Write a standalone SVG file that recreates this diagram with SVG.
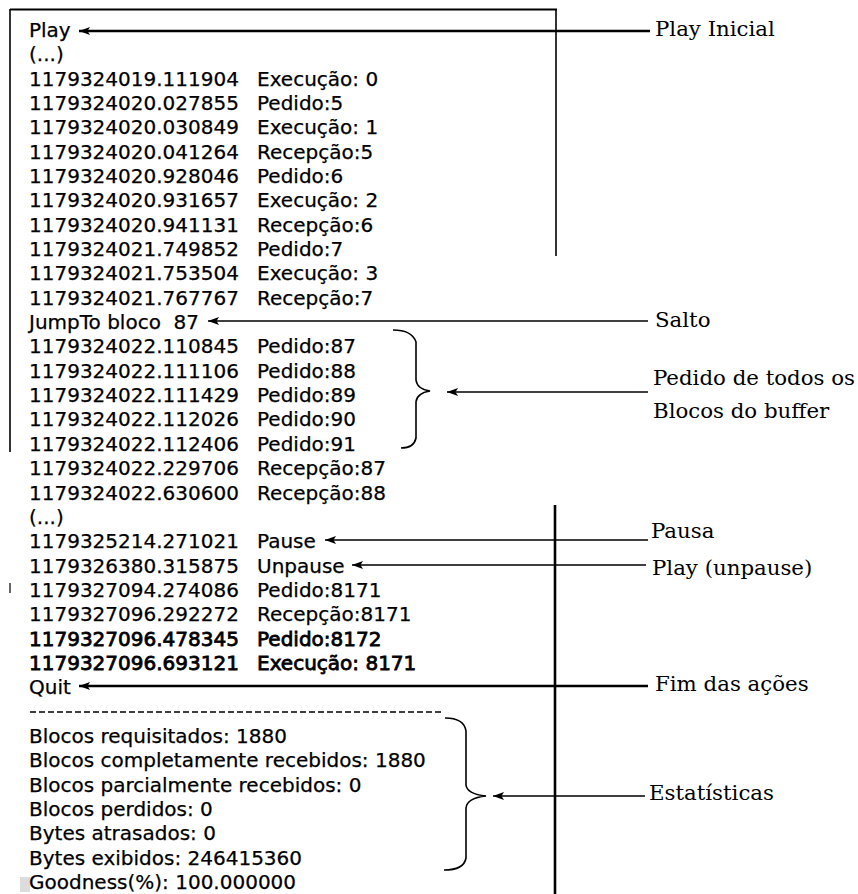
<svg xmlns="http://www.w3.org/2000/svg" width="858" height="894" viewBox="0 0 858 894">
  <style>
    .log { font-family: "DejaVu Sans", Verdana, sans-serif; font-size: 20px; fill: #000; stroke: #000; stroke-width: 0.25px; }
    .bold { stroke-width: 0.8px; }
    .lbl { font-family: "DejaVu Serif", "Liberation Serif", serif; font-size: 21.3px; fill: #000; }
    .frame { stroke: #000; fill: none; }
    .conn { stroke: #000; stroke-width: 1.6; fill: none; }
    .conn-thick { stroke: #000; stroke-width: 2.4; fill: none; }
    .brace { stroke: #000; stroke-width: 1.6; fill: none; }
  </style>
  <defs>
    <marker id="head" viewBox="0 0 11 8" refX="0" refY="4" markerWidth="11" markerHeight="8" markerUnits="userSpaceOnUse" orient="auto">
      <path d="M0,4 L11,0 L8.5,4 L11,8 Z" fill="#000"/>
    </marker>
  </defs>

  <rect width="858" height="894" fill="#fff"/>

  <!-- frame around the log listing -->
  <g id="log-frame">
    <line class="frame" x1="10" y1="9.5" x2="557" y2="9.5" stroke-width="2"/>
    <line class="frame" x1="10" y1="9" x2="10" y2="452" stroke-width="1.6"/>
    <line class="frame" x1="556" y1="9" x2="556" y2="256" stroke-width="1.6"/>
    <line class="frame" x1="10" y1="583" x2="10" y2="593" stroke-width="1.2"/>
    <line class="frame" x1="555" y1="505" x2="555" y2="894" stroke-width="2.6"/>
    <rect x="20" y="877" width="10" height="15" fill="#dcdcdc"/>
  </g>

  <!-- client log output -->
  <g id="log" class="log">
    <text x="29" y="37">Play</text>
    <text x="29" y="61.3">(...)</text>
    <text x="29" y="85.7">1179324019.111904<tspan x="257">Execução: 0</tspan></text>
    <text x="29" y="110">1179324020.027855<tspan x="257">Pedido:5</tspan></text>
    <text x="29" y="134.4">1179324020.030849<tspan x="257">Execução: 1</tspan></text>
    <text x="29" y="158.7">1179324020.041264<tspan x="257">Recepção:5</tspan></text>
    <text x="29" y="183">1179324020.928046<tspan x="257">Pedido:6</tspan></text>
    <text x="29" y="207.4">1179324020.931657<tspan x="257">Execução: 2</tspan></text>
    <text x="29" y="231.7">1179324020.941131<tspan x="257">Recepção:6</tspan></text>
    <text x="29" y="256.1">1179324021.749852<tspan x="257">Pedido:7</tspan></text>
    <text x="29" y="280.4">1179324021.753504<tspan x="257">Execução: 3</tspan></text>
    <text x="29" y="304.7">1179324021.767767<tspan x="257">Recepção:7</tspan></text>
    <text x="29" y="329.1" xml:space="preserve">JumpTo bloco  87</text>
    <text x="29" y="353.4">1179324022.110845<tspan x="257">Pedido:87</tspan></text>
    <text x="29" y="377.8">1179324022.111106<tspan x="257">Pedido:88</tspan></text>
    <text x="29" y="402.1">1179324022.111429<tspan x="257">Pedido:89</tspan></text>
    <text x="29" y="426.4">1179324022.112026<tspan x="257">Pedido:90</tspan></text>
    <text x="29" y="450.8">1179324022.112406<tspan x="257">Pedido:91</tspan></text>
    <text x="29" y="475.1">1179324022.229706<tspan x="257">Recepção:87</tspan></text>
    <text x="29" y="499.5">1179324022.630600<tspan x="257">Recepção:88</tspan></text>
    <text x="29" y="523.8">(...)</text>
    <text x="29" y="548.1">1179325214.271021<tspan x="257">Pause</tspan></text>
    <text x="29" y="572.5">1179326380.315875<tspan x="257">Unpause</tspan></text>
    <text x="29" y="596.8">1179327094.274086<tspan x="257">Pedido:8171</tspan></text>
    <text x="29" y="621.2">1179327096.292272<tspan x="257">Recepção:8171</tspan></text>
    <text x="29" y="645.5" class="bold">1179327096.478345<tspan x="257">Pedido:8172</tspan></text>
    <text x="29" y="669.8" class="bold">1179327096.693121<tspan x="257">Execução: 8171</tspan></text>
    <text x="29" y="694.2">Quit</text>
    <line x1="30" y1="712" x2="443" y2="712" stroke="#000" stroke-width="1.5" stroke-dasharray="6 3"/>
    <text x="29" y="742.9">Blocos requisitados: 1880</text>
    <text x="29" y="767.2">Blocos completamente recebidos: 1880</text>
    <text x="29" y="791.5">Blocos parcialmente recebidos: 0</text>
    <text x="29" y="815.9">Blocos perdidos: 0</text>
    <text x="29" y="840.2">Bytes atrasados: 0</text>
    <text x="29" y="864.6">Bytes exibidos: 246415360</text>
    <text x="29" y="888.9">Goodness(%): 100.000000</text>
  </g>

  <!-- annotation labels -->
  <g id="label-play-inicial"><text class="lbl" x="655" y="36">Play Inicial</text></g>
  <g id="label-salto"><text class="lbl" x="655" y="327">Salto</text></g>
  <g id="label-pedido-buffer">
    <text class="lbl" x="653" y="385">Pedido de todos os</text>
    <text class="lbl" x="653" y="418">Blocos do buffer</text>
  </g>
  <g id="label-pausa"><text class="lbl" x="651" y="538">Pausa</text></g>
  <g id="label-unpause"><text class="lbl" x="652" y="575">Play (unpause)</text></g>
  <g id="label-fim"><text class="lbl" x="655" y="691">Fim das ações</text></g>
  <g id="label-estatisticas"><text class="lbl" x="649" y="800">Estatísticas</text></g>

  <!-- arrows from labels to log lines, and braces -->
  <g id="connectors">
    <line class="conn-thick" x1="79" y1="31" x2="650" y2="31" marker-start="url(#head)"/>
    <line class="conn" x1="208" y1="321" x2="648" y2="321" marker-start="url(#head)"/>
    <line class="conn" x1="447" y1="392" x2="648" y2="392" marker-start="url(#head)"/>
    <line class="conn" x1="325" y1="540" x2="648" y2="540" marker-start="url(#head)"/>
    <line class="conn" x1="352" y1="565" x2="646" y2="565" marker-start="url(#head)"/>
    <line class="conn-thick" x1="79" y1="686" x2="648" y2="686" marker-start="url(#head)"/>
    <line class="conn" x1="493" y1="796" x2="645" y2="796" marker-start="url(#head)"/>
    <path class="brace" d="M393,330 Q412,330 416,342 L416,380 Q417,389 430,391 Q417,393 416,402 L416,438 Q414,448 401,448"/>
    <path class="brace" d="M445,718 Q464,718 466,731 L466,785 Q467,794 486,796 Q467,798 466,808 L466,858 Q464,870 444,870"/>
  </g>
</svg>
